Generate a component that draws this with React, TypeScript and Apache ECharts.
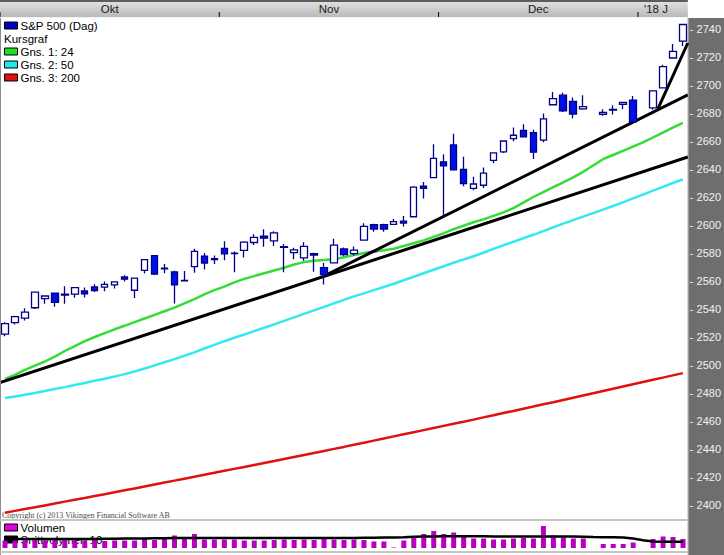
import React, { useEffect, useRef } from "react";
import * as echarts from "echarts";

// ---- data (one slot per trading weekday; null = empty slot) ----
const dates = [
  "2017-10-02","2017-10-03","2017-10-04","2017-10-05","2017-10-06",
  "2017-10-09","2017-10-10","2017-10-11","2017-10-12","2017-10-13",
  "2017-10-16","2017-10-17","2017-10-18","2017-10-19","2017-10-20",
  "2017-10-23","2017-10-24","2017-10-25","2017-10-26","2017-10-27",
  "2017-10-30","2017-10-31",
  "2017-11-01","2017-11-02","2017-11-03",
  "2017-11-06","2017-11-07","2017-11-08","2017-11-09","2017-11-10",
  "2017-11-13","2017-11-14","2017-11-15","2017-11-16","2017-11-17",
  "2017-11-20","2017-11-21","2017-11-22","2017-11-23","2017-11-24",
  "2017-11-27","2017-11-28","2017-11-29","2017-11-30",
  "2017-12-01",
  "2017-12-04","2017-12-05","2017-12-06","2017-12-07","2017-12-08",
  "2017-12-11","2017-12-12","2017-12-13","2017-12-14","2017-12-15",
  "2017-12-18","2017-12-19","2017-12-20","2017-12-21","2017-12-22",
  "2017-12-26","2017-12-27","2017-12-28","2017-12-29",
  "2018-01-01","2018-01-02","2018-01-03","2018-01-04","2018-01-05",
];

const opens: (number | null)[] = [
  2522, 2530.3, 2533.5, 2540.9, 2547.4, 2551.4, 2550.0, 2550.6, 2552.9, 2555.7,
  2555.6, 2557.2, 2562.9, 2553.4, 2567.6, 2578.1, 2568.7, 2566.5, 2560.1, 2570.3,
  2577.8, 2576.0, 2583.2, 2579.5, 2581.9, 2587.5, 2592.1, 2588.7, 2584.0, 2580.2,
  2576.5, 2579.5, 2569.5, 2573.0, 2582.9, 2579.5, 2589.2, 2600.3, 2600.3, 2600.4,
  2602.7, 2605.9, 2627.8, 2633.9, 2645.1, 2657.2, 2639.8, 2626.2, 2628.4, 2646.2,
  2652.2, 2661.7, 2667.6, 2665.9, 2660.6, 2685.9, 2692.7, 2688.2, 2683.0, null,
  2679.1, 2682.1, 2686.1, 2689.2, null, 2683.7, 2697.9, 2719.3, 2731.3,
];
const highs: (number | null)[] = [
  2530.5, 2535.1, 2540.5, 2552.5, 2549.4, 2551.8, 2556.2, 2555.2, 2555.3, 2557.7,
  2559.7, 2559.7, 2564.1, 2562.4, 2575.4, 2578.3, 2572.2, 2567.4, 2567.1, 2583.0,
  2580.0, 2578.3, 2588.4, 2581.1, 2588.4, 2593.4, 2597.0, 2595.5, 2586.5, 2583.8,
  2587.7, 2580.2, 2572.8, 2590.1, 2584.0, 2584.6, 2601.2, 2600.9, 2600.9, 2604.2,
  2606.4, 2627.7, 2630.7, 2657.7, 2650.6, 2665.2, 2648.7, 2634.4, 2641.0, 2651.7,
  2660.3, 2669.7, 2671.9, 2668.1, 2679.6, 2695.0, 2694.4, 2691.0, 2692.6, null,
  2682.7, 2685.6, 2687.7, 2692.1, null, 2695.9, 2714.4, 2729.3, 2743.5,
];
const lows: (number | null)[] = [
  2520.5, 2528.9, 2531.7, 2540.0, 2543.8, 2541.6, 2543.8, 2548.0, 2548.3, 2552.1,
  2552.6, 2554.7, 2559.7, 2547.9, 2565.4, 2564.3, 2565.6, 2544.0, 2559.8, 2565.9,
  2568.3, 2572.2, 2574.9, 2566.2, 2576.8, 2585.7, 2584.4, 2585.0, 2566.3, 2575.6,
  2574.5, 2566.6, 2557.5, 2573.0, 2577.6, 2578.2, 2589.2, 2595.2, 2595.2, 2600.4,
  2598.9, 2605.4, 2619.0, 2633.9, 2605.5, 2639.0, 2627.7, 2624.8, 2626.5, 2644.1,
  2651.5, 2659.8, 2662.9, 2647.1, 2659.1, 2685.9, 2680.7, 2676.1, 2682.4, null,
  2678.0, 2678.9, 2682.7, 2673.6, null, 2682.4, 2697.8, 2719.1, 2727.9,
];
const closes: (number | null)[] = [
  2529.5, 2534.6, 2537.7, 2552.1, 2549.3, 2544.7, 2550.6, 2555.2, 2550.9, 2553.2,
  2557.6, 2559.4, 2561.3, 2562.1, 2575.2, 2565.0, 2569.1, 2557.2, 2560.4, 2581.1,
  2572.8, 2575.3, 2579.4, 2579.9, 2587.8, 2591.1, 2590.6, 2594.4, 2584.6, 2582.3,
  2584.8, 2578.5, 2564.6, 2585.6, 2578.9, 2582.1, 2599.0, 2597.1, 2597.1, 2602.4,
  2601.4, 2627.0, 2626.1, 2647.6, 2642.2, 2639.4, 2629.6, 2629.3, 2637.0, 2651.5,
  2660.0, 2664.1, 2662.9, 2652.0, 2675.8, 2690.2, 2681.5, 2679.3, 2684.6, null,
  2680.5, 2682.6, 2687.5, 2673.6, null, 2695.8, 2713.1, 2724.0, 2743.2,
];

// moving averages
const ma24 = [
  2490, 2493, 2496.5, 2499.5, 2502.5, 2506, 2510, 2513.5, 2517, 2520,
  2522.8, 2525.5, 2528, 2530.6, 2533.2, 2535.8, 2538.4, 2541, 2544, 2547,
  2550.5, 2553.5, 2556, 2559, 2561.5, 2563.5, 2565.5, 2567.5, 2569.5, 2571.8,
  2573.5, 2574.5, 2575, 2575.6, 2577, 2578.5, 2580, 2581, 2582, 2583,
  2585, 2587, 2589, 2591.5, 2594, 2597, 2599.5, 2602, 2604, 2606.5,
  2609, 2612, 2616, 2620, 2623.5, 2627, 2630.5, 2634, 2638, 2642.5,
  2647, 2650, 2653, 2656, 2659, 2662.5, 2666, 2669.5, 2673,
];
const ma50 = [
  2476.5, 2477.5, 2478.8, 2480, 2481.4, 2482.8, 2484.2, 2485.7, 2487.2, 2488.7,
  2490.2, 2491.8, 2493.5, 2495.4, 2497.5, 2499.7, 2502, 2504.2, 2506.6, 2509,
  2511.8, 2514.4, 2517, 2519.5, 2521.8, 2524.2, 2526.6, 2529, 2531.5, 2534,
  2536.5, 2539, 2541.5, 2544, 2546.5, 2549, 2551.2, 2553.5, 2555.7, 2558,
  2560.5, 2563, 2565.5, 2568, 2570.5, 2573, 2575.4, 2577.7, 2580.2, 2582.9,
  2585.5, 2588, 2590.5, 2593, 2595.6, 2598.4, 2601, 2603.5, 2606, 2608.5,
  2611, 2613.6, 2616.2, 2619, 2621.7, 2624.5, 2627.2, 2630, 2632.5,
];
const ma200 = [
  2394.5, 2395.8, 2397.1, 2398.4, 2399.7, 2401, 2402.4, 2403.7, 2405, 2406.4,
  2407.7, 2409.1, 2410.5, 2411.8, 2413.2, 2414.6, 2416, 2417.4, 2418.8, 2420.2,
  2421.6, 2423, 2424.4, 2425.8, 2427.2, 2428.6, 2430, 2431.4, 2432.9, 2434.3,
  2435.7, 2437.2, 2438.6, 2440.1, 2441.5, 2443, 2444.5, 2446, 2447.5, 2449,
  2450.5, 2452, 2453.5, 2455, 2456.5, 2458, 2459.5, 2461, 2462.6, 2464.1,
  2465.7, 2467.2, 2468.8, 2470.3, 2471.9, 2473.4, 2475, 2476.6, 2478.2, 2479.8,
  2481.4, 2483, 2484.6, 2486.2, 2487.8, 2489.4, 2491, 2492.6, 2494.2,
];

// volume (millions) and its 10-day average
const volume: (number | null)[] = [
  2750, 2750, 2750, 2800, 2750, 2800, 2800, 2750, 2750, 2800,
  2700, 2750, 2750, 2750, 2900, 2800, 3100, 3250, 2900, 3400,
  2850, 2850, 2850, 2850, 2750, 2750, 2750, 2800, 2850, 2800,
  2850, 2800, 2950, 2850, 2800, 2850, 2800, 2650, 2650, 2050,
  2750, 3000, 3400, 3700, 3400, 3550, 3250, 2950, 2950, 2850,
  2850, 2950, 3000, 2950, 4200, 3250, 3050, 2950, 2950, null,
  2400, 2400, 2400, 2550, null, 2900, 3150, 3100, 2900,
];
const volumeMa10 = [
  2900, 2900, 2890, 2890, 2900, 2900, 2900, 2910, 2910, 2910,
  2920, 2930, 2940, 2950, 2960, 2970, 2980, 3000, 3000, 3000,
  3000, 3000, 3000, 3000, 3000, 3000, 3000, 3000, 3000, 3000,
  3000, 3000, 3000, 3000, 3000, 3000, 3020, 3030, 3040, 3050,
  3080, 3120, 3150, 3160, 3170, 3170, 3170, 3170, 3170, 3160,
  3150, 3150, 3150, 3150, 3150, 3150, 3150, 3140, 3130, 3100,
  3080, 3070, 3050, 2950, 2780, 2650, 2630, 2630, 2630,
];

// hand-drawn trend lines: [slot, price] end points
const trendLines: number[][][] = [
  [[-0.5, 2487.4], [68.5, 2648.6]],
  [[32.4, 2565], [68.5, 2693]],
  [[65.5, 2683], [68.5, 2730]],
];
const crossMark = [[36.4, 2580.4], [37.4, 2581.4]];

const monthLabels = ["Okt", "Nov", "Dec", "'18 J"];
const monthStarts = [0, 22, 44, 64];
const priceMin = 2380;
const priceMax = 2760;
const priceStep = 20;

const legendItems = [
  { label: "S&P 500 (Dag)", color: "#0000c8" },
  { label: "Kursgraf", color: null },
  { label: "Gns. 1: 24", color: "#22dd22" },
  { label: "Gns. 2: 50", color: "#22e6ee" },
  { label: "Gns. 3: 200", color: "#e01010" },
];
const volumeLegend = [
  { label: "Volumen", color: "#e000e0" },
  { label: "Snittvolymen 10", color: "#000000" },
];

const FONT = '"Liberation Sans", Arial, sans-serif';

export default function App() {
  const ref = useRef<HTMLDivElement>(null);

  useEffect(() => {
    if (!ref.current) return;
    const chart = echarts.init(ref.current, null, { renderer: "svg" });

    const candleData = opens.map((o, i) =>
      o == null ? ["-", "-", "-", "-"] : [o, closes[i], lows[i], highs[i]]
    );
    const volData = volume.map((v) => (v == null ? "-" : v));

    const lineSeries = (data: any, color: string, width: number, z: number, xAxisIndex = 0) => ({
      type: "line",
      data,
      xAxisIndex,
      yAxisIndex: 0,
      symbol: "none",
      showSymbol: false,
      silent: true,
      z,
      lineStyle: { color, width },
      itemStyle: { color },
    });

    chart.setOption({
      animation: false,
      backgroundColor: "#ffffff",
      grid: [
        { left: -2, top: 1, width: 690, height: 532 },
        { left: -2, top: 520, width: 690, height: 28 },
      ],
      xAxis: [
        { type: "category", gridIndex: 0, data: dates, show: false, boundaryGap: true },
        { type: "value", gridIndex: 0, min: -0.5, max: 68.5, show: false },
        { type: "category", gridIndex: 1, data: dates, show: false, boundaryGap: true },
      ],
      yAxis: [
        {
          type: "value",
          gridIndex: 0,
          position: "right",
          min: priceMin,
          max: priceMax,
          interval: priceStep,
          axisLine: { show: false },
          axisTick: { show: false },
          splitLine: { show: false },
          axisLabel: {
            showMinLabel: false,
            showMaxLabel: false,
            margin: 2,
            color: "#f2f2f2",
            fontSize: 11,
            fontFamily: FONT,
            formatter: (v: number) => "- " + v,
          },
        },
        { type: "value", gridIndex: 1, min: 2000, max: 4800, show: false },
      ],
      series: [
        lineSeries(ma200, "#e01010", 2.5, 2),
        lineSeries(ma50, "#33e8f0", 2.5, 2),
        lineSeries(ma24, "#33dd33", 2.5, 2),
        lineSeries(crossMark, "#e020e0", 2.5, 3, 1),
        ...trendLines.map((t) => lineSeries(t, "#000000", 3, 4, 1)),
        {
          type: "candlestick",
          xAxisIndex: 0,
          yAxisIndex: 0,
          data: candleData,
          barWidth: 7,
          z: 5,
          silent: true,
          itemStyle: {
            color: "#ffffff",
            color0: "#0010e8",
            borderColor: "#000088",
            borderColor0: "#000088",
            borderWidth: 1.3,
          },
        },
        {
          type: "bar",
          xAxisIndex: 2,
          yAxisIndex: 1,
          data: volData,
          barWidth: 5,
          z: 2,
          silent: true,
          itemStyle: { color: "#b800c0" },
        },
        {
          type: "line",
          xAxisIndex: 2,
          yAxisIndex: 1,
          data: volumeMa10,
          symbol: "none",
          silent: true,
          z: 3,
          lineStyle: { color: "#000000", width: 2.5 },
        },
      ],
    });

    const tickX = monthStarts.map((s) => chart.convertToPixel({ xAxisIndex: 1 }, s - 0.5) as number);
    const rightEdge = chart.convertToPixel({ xAxisIndex: 1 }, 68.5) as number;

    const graphics: any[] = [];
    // right axis band
    graphics.push({ type: "rect", z: -10, shape: { x: rightEdge, y: 18, width: 724 - rightEdge, height: 537 }, style: { fill: "#6e6e6e" } });
    graphics.push({ type: "rect", z: -9, shape: { x: rightEdge, y: 18, width: 1, height: 537 }, style: { fill: "#a8a8a8" } });
    // header band
    graphics.push({
      type: "rect", z: 100,
      shape: { x: 0, y: 0, width: rightEdge, height: 18 },
      style: { fill: new echarts.graphic.LinearGradient(0, 0, 0, 1, [
        { offset: 0, color: "#e4e4e4" }, { offset: 1, color: "#b6b6b6" },
      ]) },
    });
    graphics.push({ type: "rect", z: 101, shape: { x: 0, y: 0, width: rightEdge, height: 2 }, style: { fill: "#5c5c5c" } });
    graphics.push({ type: "rect", z: 101, shape: { x: 0, y: 17, width: rightEdge, height: 1 }, style: { fill: "#f4f4f4" } });
    monthLabels.forEach((lab, k) => {
      const x0 = tickX[k];
      const x1 = k + 1 < tickX.length ? tickX[k + 1] : rightEdge;
      graphics.push({ type: "line", z: 102, shape: { x1: x0, y1: 12, x2: x0, y2: 17 }, style: { stroke: "#000", lineWidth: 1 } });
      const last = k === monthLabels.length - 1;
      graphics.push({
        type: "text", z: 102,
        style: {
          text: lab, x: last ? x0 + 6 : (x0 + x1) / 2, y: 9,
          align: last ? "left" : "center", verticalAlign: "middle",
          fill: "#1a1a1a", font: `11.5px ${FONT}`,
        },
      });
    });
    // left border, separators
    graphics.push({ type: "rect", z: 50, shape: { x: 0, y: 18, width: 1, height: 537 }, style: { fill: "#8c8c8c" } });
    graphics.push({ type: "rect", z: 50, shape: { x: 0, y: 519, width: rightEdge, height: 2 }, style: { fill: "#c6c6c6" } });
    graphics.push({ type: "rect", z: 50, shape: { x: 0, y: 551, width: rightEdge, height: 2 }, style: { fill: "#c6c6c6" } });
    // price legend
    legendItems.forEach((it, k) => {
      const cy = 25.5 + k * 13;
      if (it.color) {
        graphics.push({ type: "rect", z: 60, shape: { x: 4.5, y: cy - 3.5, width: 13, height: 7 }, style: { fill: it.color, stroke: "#000", lineWidth: 1 } });
      }
      graphics.push({
        type: "text", z: 60,
        style: { text: it.label, x: it.color ? 20.5 : 4, y: cy, verticalAlign: "middle", fill: "#000", font: `11.5px ${FONT}` },
      });
    });
    // copyright
    graphics.push({
      type: "text", z: 1,
      style: { text: "Copyright (c) 2013 Vikingen Financial Software AB", x: 2, y: 515, verticalAlign: "middle", fill: "#4a4a4a", font: '8px "Liberation Serif", serif' },
    });
    // volume legend (beneath bars)
    volumeLegend.forEach((it, k) => {
      const cy = 527.5 + k * 12;
      graphics.push({ type: "rect", z: 1, shape: { x: 4.5, y: cy - 3.5, width: 13, height: 7 }, style: { fill: it.color, stroke: "#000", lineWidth: 1 } });
      graphics.push({ type: "text", z: 1, style: { text: it.label, x: 20.5, y: cy, verticalAlign: "middle", fill: "#000", font: `11.5px ${FONT}` } });
    });

    chart.setOption({ graphic: graphics });

    return () => chart.dispose();
  }, []);

  return (
    <div style={{ position: "fixed", left: 0, top: 0, width: 724, height: 555, background: "#fff" }}>
      <div ref={ref} style={{ width: 724, height: 555 }} />
    </div>
  );
}
